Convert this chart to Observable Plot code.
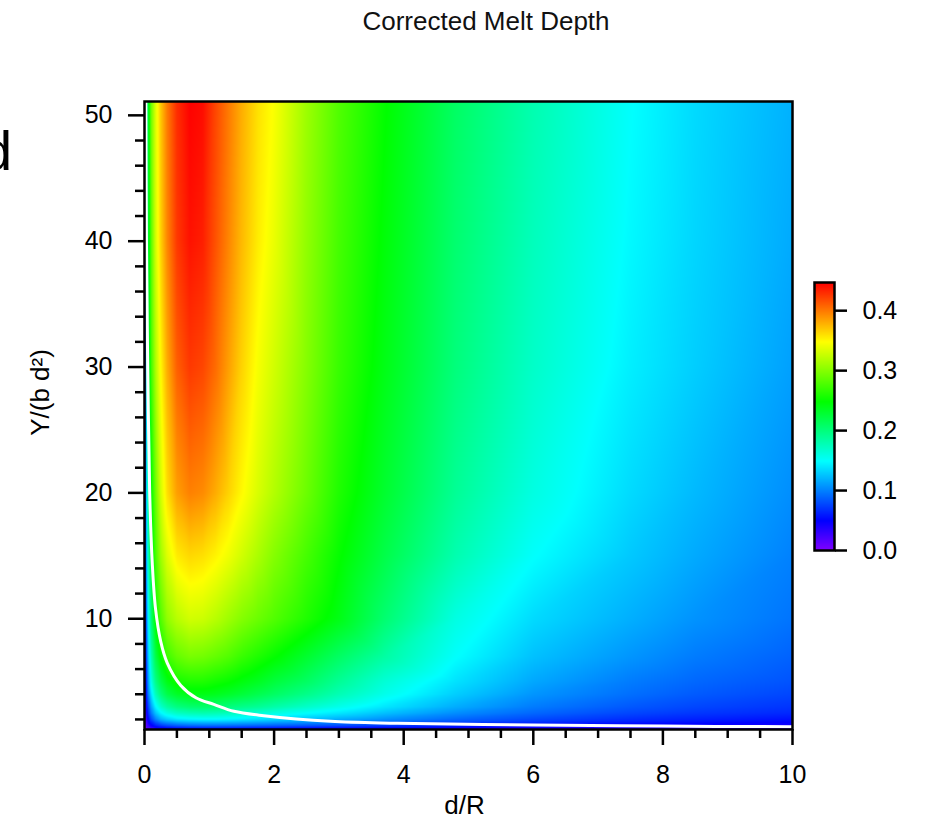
<!DOCTYPE html>
<html>
<head>
<meta charset="utf-8">
<script src="https://cdn.jsdelivr.net/npm/d3@7"></script>
<script src="https://cdn.jsdelivr.net/npm/@observablehq/plot@0.6"></script>
<style>
  body { margin: 0; background: #fff; font-family: "Liberation Sans", Arial, sans-serif; }
  #wrap { position: relative; width: 926px; height: 822px; overflow: hidden; background: #fff; }
  #title { position: absolute; left: 286px; width: 400px; top: 8px; text-align: center; font-size: 26px; line-height: 26px; color: #111; }
  #cut { position: absolute; left: -19px; top: 123px; font-size: 56px; line-height: 56px; color: #000; }
  #main { position: absolute; left: 0; top: 0; }
  #bar { position: absolute; left: 800px; top: 270px; }
</style>
</head>
<body>
<div id="wrap">
  <div id="cut">d</div>
  <div id="main"></div>
  <div id="bar"></div>
  <div id="title">Corrected Melt Depth</div>
</div>
<script>
// ---- grid axes (d/R columns, Y/(b d^2) rows) ----
const dR = [0, 0.02, 0.05, 0.1, 0.17, 0.25, 0.35, 0.5, 0.7, 0.9, 1.1, 1.3, 1.5, 1.75, 2, 2.5, 3, 3.7, 4.8, 6, 7.5, 8.5, 10];
const rowY = [52, 40, 30, 20, 15, 10, 7, 5, 4, 3, 2.5, 2, 1.5, 1];

// ---- corrected melt depth, one array per row ----
const depthY52 = [0.03, 0.13, 0.22, 0.29, 0.335, 0.37, 0.40, 0.43, 0.447, 0.443, 0.42, 0.40, 0.38, 0.36, 0.347, 0.31, 0.28, 0.25, 0.21, 0.18, 0.15, 0.135, 0.119];
const depthY40 = [0.03, 0.125, 0.215, 0.28, 0.33, 0.365, 0.395, 0.425, 0.44, 0.435, 0.415, 0.395, 0.375, 0.355, 0.34, 0.305, 0.275, 0.245, 0.205, 0.175, 0.147, 0.133, 0.116];
const depthY30 = [0.03, 0.115, 0.2, 0.27, 0.315, 0.35, 0.38, 0.41, 0.425, 0.42, 0.405, 0.385, 0.365, 0.345, 0.33, 0.30, 0.27, 0.24, 0.20, 0.17, 0.143, 0.13, 0.112];
const depthY20 = [0.03, 0.1, 0.18, 0.245, 0.29, 0.33, 0.36, 0.385, 0.397, 0.393, 0.38, 0.365, 0.35, 0.333, 0.318, 0.29, 0.26, 0.23, 0.19, 0.16, 0.135, 0.122, 0.105];
const depthY15 = [0.03, 0.09, 0.165, 0.23, 0.275, 0.31, 0.335, 0.355, 0.363, 0.36, 0.352, 0.342, 0.33, 0.315, 0.30, 0.275, 0.25, 0.22, 0.18, 0.15, 0.128, 0.116, 0.10];
const depthY10 = [0.02, 0.07, 0.135, 0.2, 0.25, 0.28, 0.305, 0.32, 0.33, 0.328, 0.32, 0.31, 0.30, 0.29, 0.28, 0.26, 0.24, 0.205, 0.16, 0.135, 0.118, 0.107, 0.095];
const depthY7 = [0.02, 0.06, 0.115, 0.175, 0.22, 0.25, 0.272, 0.287, 0.295, 0.293, 0.287, 0.28, 0.27, 0.26, 0.25, 0.23, 0.21, 0.185, 0.15, 0.125, 0.108, 0.098, 0.088];
const depthY5 = [0.015, 0.05, 0.1, 0.155, 0.195, 0.22, 0.24, 0.255, 0.26, 0.26, 0.255, 0.25, 0.243, 0.235, 0.225, 0.21, 0.19, 0.165, 0.138, 0.115, 0.098, 0.09, 0.082];
const depthY4 = [0.012, 0.045, 0.09, 0.135, 0.175, 0.2, 0.22, 0.233, 0.24, 0.24, 0.237, 0.232, 0.226, 0.218, 0.21, 0.195, 0.178, 0.157, 0.13, 0.108, 0.093, 0.085, 0.077];
const depthY3 = [0.01, 0.035, 0.07, 0.11, 0.145, 0.168, 0.185, 0.198, 0.205, 0.207, 0.205, 0.2, 0.195, 0.19, 0.183, 0.17, 0.157, 0.14, 0.117, 0.098, 0.084, 0.077, 0.07];
const depthY2_5 = [0.008, 0.03, 0.06, 0.095, 0.125, 0.145, 0.16, 0.172, 0.178, 0.18, 0.178, 0.175, 0.17, 0.165, 0.16, 0.15, 0.14, 0.125, 0.105, 0.09, 0.077, 0.071, 0.065];
const depthY2 = [0.006, 0.022, 0.045, 0.075, 0.1, 0.118, 0.13, 0.14, 0.145, 0.147, 0.147, 0.145, 0.142, 0.138, 0.133, 0.125, 0.117, 0.106, 0.09, 0.078, 0.067, 0.062, 0.056];
const depthY1_5 = [0.003, 0.013, 0.027, 0.045, 0.06, 0.07, 0.078, 0.085, 0.09, 0.092, 0.092, 0.091, 0.09, 0.088, 0.086, 0.082, 0.078, 0.072, 0.063, 0.055, 0.048, 0.045, 0.041];
const depthY1 = [0, 0.002, 0.004, 0.006, 0.008, 0.009, 0.01, 0.011, 0.012, 0.012, 0.012, 0.012, 0.012, 0.012, 0.012, 0.011, 0.011, 0.01, 0.01, 0.009, 0.008, 0.008, 0.007];
const depthRows = [depthY52, depthY40, depthY30, depthY20, depthY15, depthY10, depthY7, depthY5, depthY4, depthY3, depthY2_5, depthY2, depthY1_5, depthY1];

// ---- white curve ----
const curveX = [0.02, 0.03, 0.05, 0.08, 0.12, 0.17, 0.25, 0.35, 0.56, 0.8, 1.07, 1.38, 1.84, 2.87, 3.9, 6, 8, 10];
const curveY = [51.1, 40, 30, 20, 14.4, 10.8, 8.2, 6.5, 4.7, 3.7, 3.2, 2.65, 2.3, 1.85, 1.7, 1.55, 1.47, 1.42];

// ---- ticks ----
const xMajor = [0, 2, 4, 6, 8, 10];
const xMinor = [0.5, 1, 1.5, 2.5, 3, 3.5, 4.5, 5, 5.5, 6.5, 7, 7.5, 8.5, 9, 9.5];
const yMajor = [10, 20, 30, 40, 50];
const yMinor = [2, 4, 6, 8, 12, 14, 16, 18, 22, 24, 26, 28, 32, 34, 36, 38, 42, 44, 46, 48];
const barTicks = [0, 0.1, 0.2, 0.3, 0.4];

// ---- colour table (rainbow) ----
const colorStops = [0, 0.0497, 0.149, 0.248, 0.348, 0.447];
const colorRange = ["#8000ff", "#0000ff", "#00ffff", "#00ff00", "#ffff00", "#ff0000"];

const points = [];
rowY.forEach((yv, i) => dR.forEach((xv, j) => points.push({x: xv, y: yv, v: depthRows[i][j]})));
const curve = curveX.map((x, i) => ({x, y: curveY[i]}));

const font = "Liberation Sans, Arial, Helvetica, sans-serif";
const colorScale = {type: "linear", domain: colorStops, range: colorRange, interpolate: "rgb", clamp: true};

const main = Plot.plot({
  width: 926, height: 822,
  marginLeft: 144, marginRight: 134, marginTop: 101, marginBottom: 93,
  x: {domain: [0, 10], label: null},
  y: {domain: [1.2, 51.1], label: null},
  color: colorScale,
  style: {fontFamily: font, fontSize: "25px", color: "#000", background: "transparent", overflow: "visible"},
  marks: [
    Plot.raster(points, {x: "x", y: "y", fill: "v", interpolate: "barycentric"}),
    Plot.line(curve, {x: "x", y: "y", stroke: "white", strokeWidth: 3, curve: "catmull-rom"}),
    Plot.frame({stroke: "#000", strokeWidth: 2.5}),
    Plot.axisX(xMajor, {tickSize: 16, tickPadding: 20, strokeWidth: 2.5, fontSize: 25, tickFormat: d => String(d), label: null}),
    Plot.axisX(xMinor, {tickSize: 9, strokeWidth: 2.5, tickFormat: () => "", label: null}),
    Plot.axisY(yMajor, {tickSize: 16, tickPadding: 16, strokeWidth: 2.5, fontSize: 25, tickFormat: d => String(d), label: null}),
    Plot.axisY(yMinor, {tickSize: 9, strokeWidth: 2.5, tickFormat: () => "", label: null}),
    Plot.text(["d/R"], {frameAnchor: "bottom", dx: -4, dy: 76, text: d => d, fontSize: 26, textAnchor: "middle", lineAnchor: "middle"}),
    Plot.text(["Y/(b d²)"], {frameAnchor: "left", dx: -104, dy: -23, rotate: -90, text: d => d, fontSize: 26, textAnchor: "middle", lineAnchor: "middle"})
  ]
});
document.getElementById("main").appendChild(main);

const bar = Plot.plot({
  width: 126, height: 300,
  marginLeft: 14, marginRight: 92, marginTop: 12, marginBottom: 20,
  x: {domain: [0, 1], axis: null},
  y: {domain: [0, 0.447], label: null},
  color: colorScale,
  style: {fontFamily: font, fontSize: "25px", color: "#000", background: "transparent", overflow: "visible"},
  marks: [
    Plot.raster({x1: 0, x2: 1, y1: 0, y2: 0.447, fill: (x, y) => y}),
    Plot.frame({stroke: "#000", strokeWidth: 2.5}),
    Plot.axisY(barTicks, {anchor: "right", tickSize: 12, tickPadding: 16, strokeWidth: 2.5, fontSize: 25, tickFormat: d3.format(".1f"), label: null})
  ]
});
document.getElementById("bar").appendChild(bar);
</script>
</body>
</html>
